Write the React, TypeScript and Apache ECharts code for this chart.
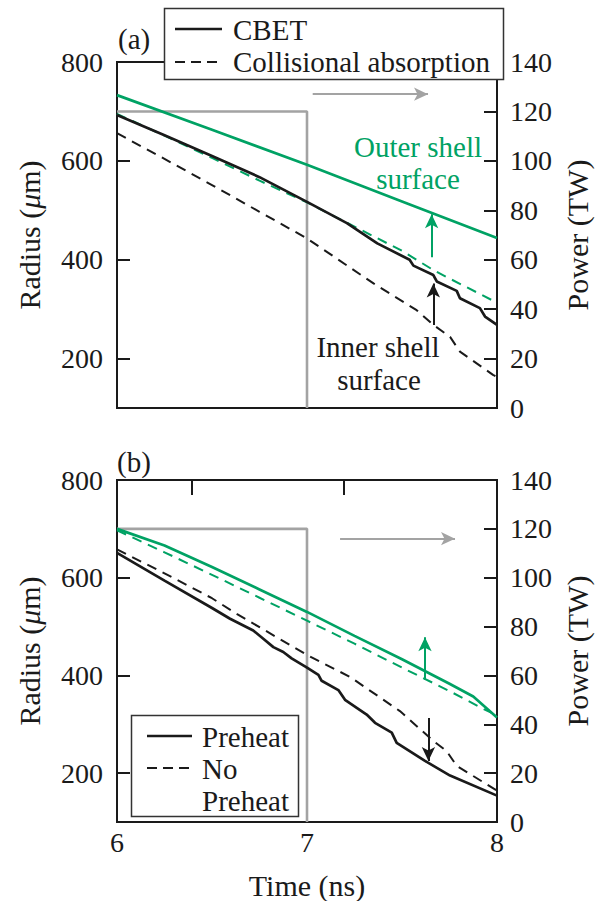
import React, { useEffect, useRef } from 'react';
import * as echarts from 'echarts';

const FONT = "'Liberation Serif', 'Times New Roman', serif";
const GREEN = '#00a264';
const BLACK = '#1a1a1a';
const GRAY = '#a3a3a3';

// ---- Panel (a): CBET vs collisional absorption ----
const aOuterCbetT = [6, 6.5, 7, 7.5, 8];
const aOuterCbetR = [733, 663, 592, 518, 444];
const aOuterCollT = [6, 6.25, 6.5, 6.75, 7, 7.25, 7.5, 7.665, 7.75, 8];
const aOuterCollR = [695, 651, 606, 560, 516, 467, 418, 379, 362, 313];
const aInnerCbetT = [6, 6.25, 6.5, 6.75, 7, 7.21, 7.37, 7.54, 7.56, 7.665, 7.683, 7.788, 7.805, 7.91, 7.937, 8];
const aInnerCbetR = [693, 652, 610, 567, 517, 474, 433, 400, 388, 369, 356, 337, 322, 302, 285, 268];
const aInnerCollT = [6, 6.25, 6.5, 6.75, 7, 7.35, 7.577, 7.665, 7.753, 7.805, 7.979, 8];
const aInnerCollR = [656, 604, 551, 497, 443, 352, 298, 268, 244, 214, 167, 163];

// ---- Panel (b): preheat vs no preheat ----
const bOuterPreT = [6, 6.25, 6.5, 6.75, 7, 7.25, 7.5, 7.75, 7.875, 8];
const bOuterPreR = [700, 666, 622, 576, 530, 481, 433, 383, 357, 314];
const bOuterNoT = [6, 6.25, 6.5, 6.75, 7, 7.25, 7.5, 7.75, 7.92, 8];
const bOuterNoR = [697, 652, 606, 559, 512, 465, 416, 368, 333, 318];
const bInnerPreT = [6, 6.25, 6.5, 6.595, 6.717, 6.77, 6.823, 6.875, 6.919, 7, 7.06, 7.077, 7.165, 7.2, 7.314, 7.358, 7.446, 7.472, 7.621, 7.753, 8];
const bInnerPreR = [651, 594, 538, 516, 492, 475, 458, 448, 435, 416, 401, 389, 370, 350, 320, 303, 283, 262, 225, 195, 154];
const bInnerNoT = [6, 6.25, 6.5, 6.63, 7, 7.226, 7.489, 7.665, 7.735, 7.788, 8];
const bInnerNoR = [658, 609, 558, 526, 442, 397, 327, 266, 245, 215, 164];

// ---- Laser power (both panels) ----
const powerT = [6, 7, 7];
const powerP = [120, 120, 0];

// ---- Annotation arrows [time, from, to] / [t0, t1, power] ----
const aGreenArrow = [7.656, 405, 492];
const aBlackArrow = [7.665, 268, 352];
const aGrayArrow = [7.03, 7.637, 127];
const bGreenArrow = [7.621, 391, 478];
const bBlackArrow = [7.639, 313, 225];
const bGrayArrow = [7.174, 7.779, 116];

// ---- Ticks ----
const radiusLabels = [200, 400, 600, 800];
const radiusTicks = [200, 400, 600];
const powerTicks = [20, 40, 60, 80, 100, 120];
const timeLabels = [6, 7, 8];
const timeTicks = [7];
const bTopTicks = [6.395, 7.195];

const zip = (t: number[], v: number[]) => t.map((x, i) => [x, v[i]]);

const txt = { fontFamily: FONT, fontSize: 28, color: BLACK };
const nameTxt = { fontFamily: FONT, fontSize: 30, color: BLACK };

function vArrow(spec: number[], color: string) {
  return {
    silent: true,
    symbol: ['none', 'arrow'],
    symbolSize: [10, 14],
    label: { show: false },
    lineStyle: { color, width: 2, type: 'solid' },
    emphasis: { disabled: true },
    data: [[{ coord: [spec[0], spec[1]] }, { coord: [spec[0], spec[2]] }]],
  };
}
function hArrow(spec: number[]) {
  return {
    silent: true,
    symbol: ['none', 'arrow'],
    symbolSize: [10, 14],
    label: { show: false },
    lineStyle: { color: GRAY, width: 2, type: 'solid' },
    emphasis: { disabled: true },
    data: [[{ coord: [spec[0], spec[2]] }, { coord: [spec[1], spec[2]] }]],
  };
}

function line(t: number[], r: number[], xi: number, yi: number, color: string, width: number, dashed: boolean, markLine?: any) {
  return {
    type: 'line',
    xAxisIndex: xi,
    yAxisIndex: yi,
    data: zip(t, r),
    symbol: 'none',
    silent: true,
    lineStyle: { color, width, type: dashed ? [10, 7] : 'solid' },
    ...(markLine ? { markLine } : {}),
  };
}

function xAxisFor(grid: number, showLabels: boolean) {
  return {
    type: 'value', gridIndex: grid, min: 6, max: 8,
    axisLine: { show: false }, splitLine: { show: false },
    axisTick: { show: true, inside: true, length: 14, customValues: timeTicks, lineStyle: { color: BLACK, width: 2 } },
    axisLabel: showLabels ? { ...txt, margin: 6, customValues: timeLabels } : { show: false },
    ...(showLabels ? { name: 'Time (ns)', nameLocation: 'middle', nameGap: 48, nameTextStyle: { ...nameTxt } } : {}),
  };
}
function yLeft(grid: number) {
  return {
    type: 'value', gridIndex: grid, min: 100, max: 800, position: 'left',
    axisLine: { show: false }, splitLine: { show: false },
    axisTick: { show: true, inside: true, length: 13, customValues: radiusTicks, lineStyle: { color: BLACK, width: 2 } },
    axisLabel: { ...txt, margin: 14, customValues: radiusLabels },
    name: 'Radius ({i|μ}m)', nameLocation: 'middle', nameGap: 73,
    nameTextStyle: { ...nameTxt, rich: { i: { fontStyle: 'italic', fontFamily: FONT, fontSize: 30, color: BLACK } } },
  };
}
function yRight(grid: number) {
  return {
    type: 'value', gridIndex: grid, min: 0, max: 140, interval: 20, position: 'right',
    axisLine: { show: false }, splitLine: { show: false },
    axisTick: { show: true, inside: true, length: 13, customValues: powerTicks, lineStyle: { color: BLACK, width: 2 } },
    axisLabel: { ...txt, margin: 13 },
    name: 'Power (TW)', nameLocation: 'middle', nameGap: 60, nameRotate: 90,
    nameTextStyle: { ...nameTxt },
  };
}

function gText(text: string, x: number, y: number, align: string, color = BLACK) {
  return {
    type: 'text', x, y, z: 101,
    style: { text, fill: color, fontFamily: FONT, fontSize: 29, textAlign: align, textVerticalAlign: 'middle' },
  };
}
function gLine(x1: number, x2: number, y: number, dashed: boolean) {
  return {
    type: 'line', z: 101,
    shape: { x1, y1: y, x2, y2: y },
    style: { stroke: BLACK, lineWidth: dashed ? 2 : 2.7, lineDash: dashed ? [10, 6] : null },
  };
}

export default function App() {
  const ref = useRef<HTMLDivElement>(null);
  useEffect(() => {
    document.body.style.margin = '0';
    if (!ref.current) return;
    const chart = echarts.init(ref.current, undefined, { renderer: 'svg' });
    const option: any = {
      animation: false,
      backgroundColor: '#fff',
      grid: [
        { left: 117, top: 62, width: 380, height: 346, show: true, borderColor: BLACK, borderWidth: 2, backgroundColor: 'transparent' },
        { left: 117, top: 480, width: 380, height: 345, show: true, borderColor: BLACK, borderWidth: 2, backgroundColor: 'transparent' },
      ],
      xAxis: [
        xAxisFor(0, false),
        xAxisFor(1, true),
        {
          type: 'value', gridIndex: 1, min: 6, max: 8, position: 'top',
          axisLine: { show: false }, splitLine: { show: false },
          axisTick: { show: true, inside: true, length: 15, customValues: bTopTicks, lineStyle: { color: BLACK, width: 2 } },
          axisLabel: { show: false },
        },
      ],
      yAxis: [yLeft(0), yRight(0), yLeft(1), yRight(1)],
      series: [
        // panel a
        line(powerT, powerP, 0, 1, GRAY, 2.6, false, hArrow(aGrayArrow)),
        line(aOuterCbetT, aOuterCbetR, 0, 0, GREEN, 2.7, false, vArrow(aGreenArrow, GREEN)),
        line(aOuterCollT, aOuterCollR, 0, 0, GREEN, 2, true),
        line(aInnerCollT, aInnerCollR, 0, 0, BLACK, 2, true),
        line(aInnerCbetT, aInnerCbetR, 0, 0, BLACK, 2.7, false, vArrow(aBlackArrow, BLACK)),
        // panel b
        line(powerT, powerP, 1, 3, GRAY, 2.6, false, hArrow(bGrayArrow)),
        line(bOuterPreT, bOuterPreR, 1, 2, GREEN, 2.7, false, vArrow(bGreenArrow, GREEN)),
        line(bOuterNoT, bOuterNoR, 1, 2, GREEN, 2, true),
        line(bInnerNoT, bInnerNoR, 1, 2, BLACK, 2, true),
        line(bInnerPreT, bInnerPreR, 1, 2, BLACK, 2.7, false, vArrow(bBlackArrow, BLACK)),
      ],
      graphic: [
        gText('(a)', 118, 39, 'left'),
        gText('(b)', 117, 462, 'left'),
        // legend a
        { type: 'rect', z: 100, shape: { x: 164.5, y: 8.5, width: 339, height: 71 }, style: { fill: '#fff', stroke: '#333', lineWidth: 1.5 } },
        gLine(175, 222, 29, false),
        gLine(175, 222, 62, true),
        gText('CBET', 233, 30, 'left'),
        gText('Collisional absorption', 233, 62, 'left'),
        // annotations a
        gText('Outer shell', 418, 147, 'center', GREEN),
        gText('surface', 418, 179, 'center', GREEN),
        gText('Inner shell', 378, 347, 'center'),
        gText('surface', 379, 380, 'center'),
        // legend b
        { type: 'rect', z: 100, shape: { x: 131.5, y: 715.5, width: 167, height: 101 }, style: { fill: '#fff', stroke: '#333', lineWidth: 1.5 } },
        gLine(147, 192, 736, false),
        gLine(147, 192, 768, true),
        gText('Preheat', 202, 737, 'left'),
        gText('No', 202, 769, 'left'),
        gText('Preheat', 202, 801, 'left'),
      ],
    };
    chart.setOption(option);
    return () => chart.dispose();
  }, []);
  return <div ref={ref} style={{ width: 605, height: 901 }} />;
}
